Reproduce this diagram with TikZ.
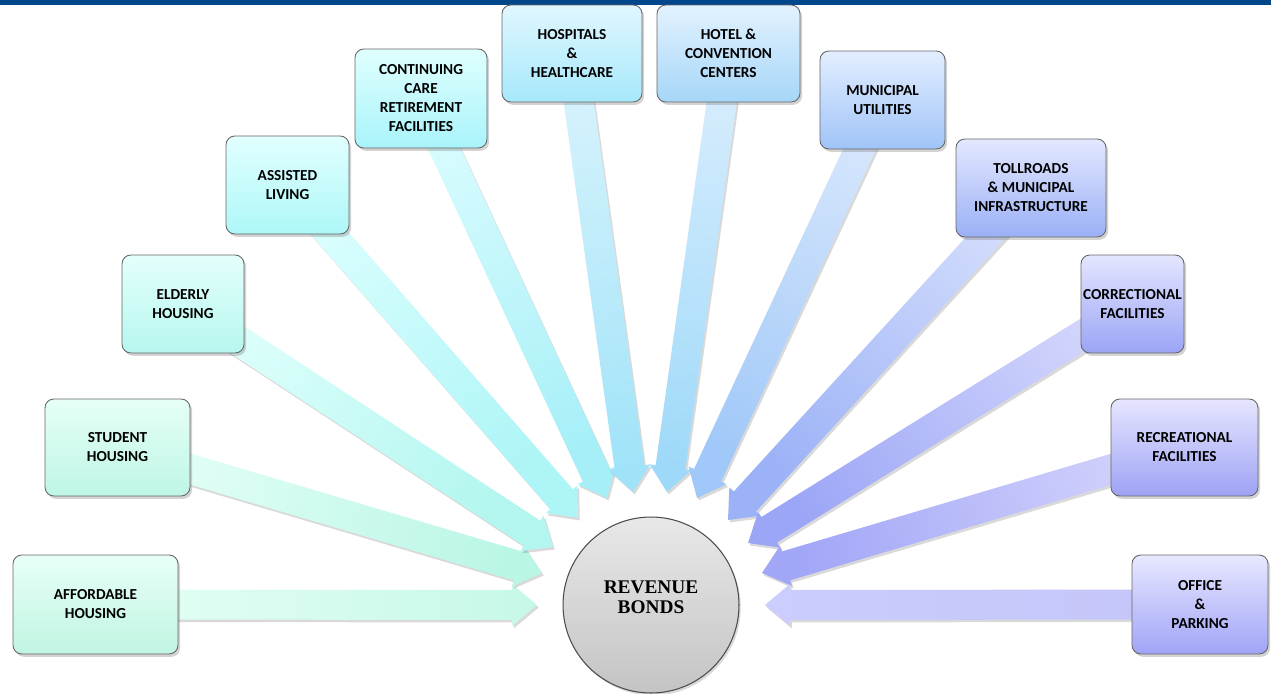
\documentclass[tikz,border=0pt]{standalone}
\usepackage{fontspec}
\setmainfont{Carlito}
\newfontfamily\bondfont{Liberation Serif}
\usetikzlibrary{calc,shadows,backgrounds}

\definecolor{navybar}{HTML}{00468B}
\definecolor{bondtop}{HTML}{E8E8E8}
\definecolor{bondbot}{HTML}{C4C4C4}
% box colours (top / bottom)
\definecolor{affT}{HTML}{E8FFF6}\definecolor{affB}{HTML}{C0F5E2}
\definecolor{stuT}{HTML}{E6FFF6}\definecolor{stuB}{HTML}{BEF6E6}
\definecolor{eldT}{HTML}{E4FFFC}\definecolor{eldB}{HTML}{B6F7EE}
\definecolor{assT}{HTML}{E2FFFF}\definecolor{assB}{HTML}{ADF7F7}
\definecolor{ccrT}{HTML}{E0FFFF}\definecolor{ccrB}{HTML}{A8F4FA}
\definecolor{hosT}{HTML}{E0F7FF}\definecolor{hosB}{HTML}{A6E8FB}
\definecolor{hotT}{HTML}{E2F2FF}\definecolor{hotB}{HTML}{A6D6F8}
\definecolor{munT}{HTML}{E2EEFF}\definecolor{munB}{HTML}{A0C4F8}
\definecolor{tolT}{HTML}{E4E8FF}\definecolor{tolB}{HTML}{9AB0F6}
\definecolor{corT}{HTML}{E4E6FF}\definecolor{corB}{HTML}{9AA4F4}
\definecolor{recT}{HTML}{E6E6FF}\definecolor{recB}{HTML}{9EA2F4}
\definecolor{offT}{HTML}{E8E8FF}\definecolor{offB}{HTML}{A0A4F6}
% arrow colours (tail / head)
\definecolor{affS}{HTML}{E6FFF5}\definecolor{affE}{HTML}{C6F8E8}
\definecolor{stuS}{HTML}{E4FFF7}\definecolor{stuE}{HTML}{BAF6E6}
\definecolor{eldS}{HTML}{DEFFFB}\definecolor{eldE}{HTML}{B2F6EF}
\definecolor{assS}{HTML}{DAFEFE}\definecolor{assE}{HTML}{ADF5F6}
\definecolor{ccrS}{HTML}{D8FCFE}\definecolor{ccrE}{HTML}{A6EFF7}
\definecolor{hosS}{HTML}{D8F3FD}\definecolor{hosE}{HTML}{A0E3F8}
\definecolor{hotS}{HTML}{D8EDFD}\definecolor{hotE}{HTML}{9ED9F9}
\definecolor{munS}{HTML}{D6E6FC}\definecolor{munE}{HTML}{A0C8F8}
\definecolor{tolS}{HTML}{D2DCFC}\definecolor{tolE}{HTML}{9CB2F7}
\definecolor{corS}{HTML}{D2D6FC}\definecolor{corE}{HTML}{9CA6F6}
\definecolor{recS}{HTML}{D4D4FC}\definecolor{recE}{HTML}{A2A6F7}
\definecolor{offS}{HTML}{C4C4F8}\definecolor{offE}{HTML}{CACDFD}

\newcommand{\shaftw}{0.3cm}
\newcommand{\headw}{0.42cm}
\newcommand{\headl}{0.5cm}
% block arrow from node #1 to tip #2, shaded #3 -> #4
\newcommand{\feed}[4]{%
  \pgfmathanglebetweenpoints{\pgfpointanchor{#1}{center}}{\pgfpointanchor{#2}{center}}%
  \pgfmathsetmacro{\feedang}{\pgfmathresult-90}%
  \path[feedarrow, top color=#4, bottom color=#3, shading angle=\feedang]
    ($(#1)!\shaftw!90:(#2)$)
    -- ($($(#2)!\headl!(#1)$)!\shaftw!90:(#2)$)
    -- ($($(#2)!\headl!(#1)$)!\headw!90:(#2)$)
    -- (#2)
    -- ($($(#2)!\headl!(#1)$)!\headw!-90:(#2)$)
    -- ($($(#2)!\headl!(#1)$)!\shaftw!-90:(#2)$)
    -- ($(#1)!\shaftw!-90:(#2)$) -- cycle;}

\begin{document}
\begin{tikzpicture}[x=0.02cm,y=-0.02cm,
  srcbox/.style={draw=black!60, line width=0.5pt, rounded corners=5pt, align=center, inner sep=1pt,
    font=\fontsize{8.7}{10.8}\selectfont\bfseries,
    drop shadow={opacity=0.35, shadow xshift=1.2pt, shadow yshift=-1.6pt}},
  feedarrow/.style={draw=none, drop shadow={opacity=0.3, shadow xshift=1pt, shadow yshift=-1.4pt}},
  bondball/.style={circle, draw=black!70, line width=0.6pt, minimum size=3.52cm,
    top color=bondtop, bottom color=bondbot,
    drop shadow={opacity=0.3, shadow xshift=1pt, shadow yshift=-1.4pt}}]
\useasboundingbox (0,0) rectangle (1271,693);
\fill[navybar] (0,0) rectangle (1271,5);

\node[srcbox, minimum width=3.3cm, minimum height=1.98cm, top color=affT, bottom color=affB] (aff) at (95.5,604.5) {AFFORDABLE\\HOUSING};
\node[srcbox, minimum width=2.9cm, minimum height=1.94cm, top color=stuT, bottom color=stuB] (stu) at (117.5,447.5) {STUDENT\\HOUSING};
\node[srcbox, minimum width=2.44cm, minimum height=1.96cm, top color=eldT, bottom color=eldB] (eld) at (183,304) {ELDERLY\\HOUSING};
\node[srcbox, minimum width=2.46cm, minimum height=1.96cm, top color=assT, bottom color=assB] (ass) at (287.5,185) {ASSISTED\\LIVING};
\node[srcbox, minimum width=2.64cm, minimum height=1.98cm, top color=ccrT, bottom color=ccrB] (ccr) at (421,98.5) {CONTINUING\\CARE\\RETIREMENT\\FACILITIES};
\node[srcbox, minimum width=2.8cm, minimum height=1.94cm, top color=hosT, bottom color=hosB] (hos) at (572,53.5) {HOSPITALS\\\&\\HEALTHCARE};
\node[srcbox, minimum width=2.86cm, minimum height=1.94cm, top color=hotT, bottom color=hotB] (hot) at (728.5,53.5) {HOTEL \&\\CONVENTION\\CENTERS};
\node[srcbox, minimum width=2.5cm, minimum height=1.96cm, top color=munT, bottom color=munB] (mun) at (882.5,100) {MUNICIPAL\\UTILITIES};
\node[srcbox, minimum width=3.0cm, minimum height=1.96cm, top color=tolT, bottom color=tolB] (tol) at (1031,188) {TOLLROADS\\\& MUNICIPAL\\INFRASTRUCTURE};
\node[srcbox, minimum width=2.06cm, minimum height=1.96cm, top color=corT, bottom color=corB] (cor) at (1132.5,304) {CORRECTIONAL\\FACILITIES};
\node[srcbox, minimum width=2.94cm, minimum height=1.94cm, top color=recT, bottom color=recB] (rec) at (1184.5,447.5) {RECREATIONAL\\FACILITIES};
\node[srcbox, minimum width=2.72cm, minimum height=1.98cm, top color=offT, bottom color=offB] (off) at (1200,604.5) {OFFICE\\\&\\PARKING};

\node[bondball] (rb) at (651,605) {};
\node[font=\bondfont\fontsize{11}{11.6}\selectfont\bfseries, align=center] (rbt) at (651,597) {REVENUE\\BONDS};

\coordinate (t1) at (537,605);
\coordinate (t2) at (542,573);
\coordinate (t3) at (553,547);
\coordinate (t4) at (578,518);
\coordinate (t5) at (607,498);
\coordinate (t6) at (633,492);
\coordinate (t7) at (667,492);
\coordinate (t8) at (697,498);
\coordinate (t9) at (728,520);
\coordinate (t10) at (748,543);
\coordinate (t11) at (762,573);
\coordinate (t12) at (765,605);

\begin{scope}[on background layer]
\feed{aff}{t1}{affS}{affE}
\feed{stu}{t2}{stuS}{stuE}
\feed{eld}{t3}{eldS}{eldE}
\feed{ass}{t4}{assS}{assE}
\feed{ccr}{t5}{ccrS}{ccrE}
\feed{hos}{t6}{hosS}{hosE}
\feed{hot}{t7}{hotS}{hotE}
\feed{mun}{t8}{munS}{munE}
\feed{tol}{t9}{tolS}{tolE}
\feed{cor}{t10}{corS}{corE}
\feed{rec}{t11}{recS}{recE}
\feed{off}{t12}{offS}{offE}
\end{scope}
\end{tikzpicture}
\end{document}
